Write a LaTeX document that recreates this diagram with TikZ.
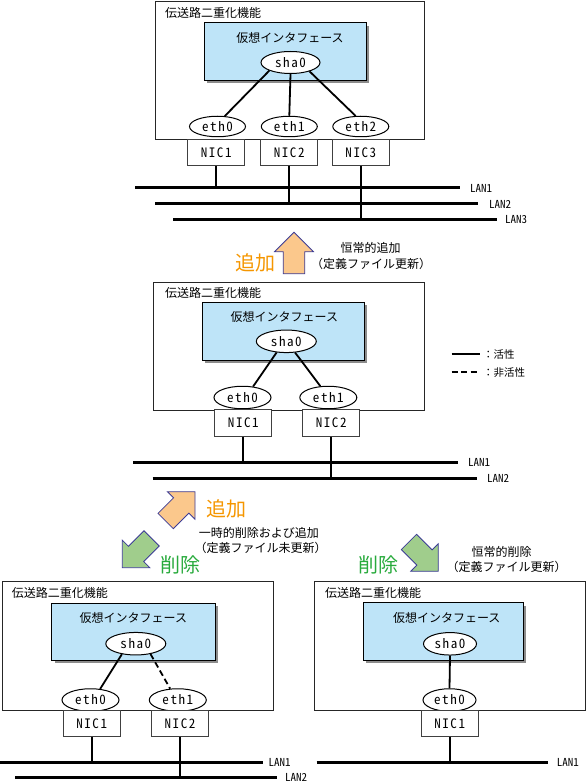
\documentclass[tikz,border=0pt]{standalone}
\usepackage{fontspec}
\setmainfont{Noto Sans CJK JP}
\newfontfamily\jp{Noto Sans CJK JP}
\newfontfamily\latw[RawFeature=+hwid,LetterSpace=12]{Noto Sans CJK JP}
\newfontfamily\latn[RawFeature=+hwid]{Noto Sans CJK JP}
\usetikzlibrary{shapes.geometric}
\newcommand\jpt{\jp\fontsize{12}{14}\selectfont}
\newcommand\jps{\jp\fontsize{10.5}{12}\selectfont}
\newcommand\jpb{\jp\fontsize{20}{22}\selectfont}
\newcommand\latf{\latw\fontsize{13}{15}\selectfont}
\newcommand\lanf{\latn\fontsize{11}{12}\selectfont}
\definecolor{vblue}{RGB}{190,228,248}
\definecolor{shadowgray}{RGB}{140,140,140}
\definecolor{arrO}{RGB}{251,200,140}
\definecolor{arrG}{RGB}{160,205,140}
\definecolor{arrline}{RGB}{60,60,150}
\definecolor{txtO}{RGB}{245,150,0}
\definecolor{txtG}{RGB}{40,170,60}
\tikzset{
  outerbox/.style={draw=black!85, line width=0.8pt},
  shadowbox/.style={fill=shadowgray},
  vifbox/.style={fill=vblue, draw=black, line width=0.8pt},
  ttl/.style={anchor=west, inner sep=0, font=\jpt},
  vif/.style={inner sep=0, font=\jpt},
  ifell/.style={ellipse, draw, fill=white, line width=1pt, inner sep=0, minimum width=57, minimum height=22.5, font=\latf},
  nic/.style={rectangle, draw=black!75, fill=white, line width=0.8pt, inner sep=0, minimum width=57, minimum height=26.5, font=\latf},
  lan/.style={line width=3pt},
  wire/.style={line width=1.7pt},
  link/.style={line width=1.8pt},
  inactive/.style={line width=1.8pt, dash pattern=on 6pt off 3.5pt},
  lanlbl/.style={anchor=west, inner sep=0, font=\lanf},
  note/.style={inner sep=0, font=\jpt},
  legtxt/.style={anchor=west, inner sep=0, font=\jps},
  bigO/.style={inner sep=0, font=\jpb, text=txtO},
  bigG/.style={inner sep=0, font=\jpb, text=txtG},
  bigarrow/.pic={\path[pic actions] (0,0) -- (-19.5,19.5) -- (-10.8,19.5) -- (-10.8,41.5) -- (10.8,41.5) -- (10.8,19.5) -- (19.5,19.5) -- cycle;},
  arrowO/.style={fill=arrO, draw=arrline, line width=0.8pt},
  arrowG/.style={fill=arrG, draw=arrline, line width=0.8pt}
}
\begin{document}
\begin{tikzpicture}[x=1pt,y=-1pt]
\useasboundingbox (0,0) rectangle (587,783);

% ================= TOP =================
\draw[outerbox] (155,1) rectangle (424,139.3);
\node[ttl] (t-title) at (165,13) {伝送路二重化機能};
\fill[shadowbox] (207,25.7) rectangle (369,83);
\draw[vifbox] (204,22.7) rectangle (366,80);
\node[vif] (t-vif) at (290,38) {仮想インタフェース};
\node[ifell, minimum width=59, minimum height=22] (t-sha) at (290.5,62.5) {sha0};
\node[ifell, minimum width=56, minimum height=20.5] (t-e0) at (217.5,126.5) {eth0};
\node[ifell, minimum width=56, minimum height=20.5] (t-e1) at (289.3,126.5) {eth1};
\node[ifell, minimum width=56, minimum height=20.5] (t-e2) at (360.8,126.5) {eth2};
\draw[link] (t-sha.201) -- (t-e0.55);
\draw[link] (t-sha.south) -- (t-e1.north);
\draw[link] (t-sha.335) -- (t-e2.116);
\node[nic] (t-n1) at (216.2,152.5) {NIC1};
\node[nic] (t-n2) at (289.2,152.5) {NIC2};
\node[nic] (t-n3) at (360.8,152.5) {NIC3};
\coordinate (t-L1a) at (135,188);  \coordinate (t-L1b) at (460,188);
\coordinate (t-L2a) at (155,204);  \coordinate (t-L2b) at (478,204);
\coordinate (t-L3a) at (173,220);  \coordinate (t-L3b) at (497,220);
\draw[lan] (t-L1a) -- (t-L1b);
\draw[lan] (t-L2a) -- (t-L2b);
\draw[lan] (t-L3a) -- (t-L3b);
\draw[wire] (t-n1.south) -- (t-n1.south |- t-L1a);
\draw[wire] (t-n2.south) -- (t-n2.south |- t-L2a);
\draw[wire] (t-n3.south) -- (t-n3.south |- t-L3a);
\node[lanlbl] (t-l1) at (470,188) {LAN1};
\node[lanlbl] (t-l2) at (489,204) {LAN2};
\node[lanlbl] (t-l3) at (505,220) {LAN3};

% ================= ARROW (permanent add) =================
\pic[arrowO] at (294,232.3) {bigarrow};
\node[bigO] (a-add1) at (255.5,262.5) {追加};
\node[note] (a-n1a) at (370.7,247.7) {恒常的追加};
\node[note] (a-n1b) at (371,264) {（定義ファイル更新）};

% ================= MIDDLE =================
\draw[outerbox] (153.3,282.3) rectangle (424,410);
\node[ttl] (m-title) at (165,293.3) {伝送路二重化機能};
\fill[shadowbox] (205.3,305.3) rectangle (367.3,363);
\draw[vifbox] (202.3,302.3) rectangle (364.3,360);
\node[vif] (m-vif) at (284.3,316.7) {仮想インタフェース};
\node[ifell, minimum width=60] (m-sha) at (286.3,341.3) {sha0};
\node[ifell] (m-e0) at (242.5,397.5) {eth0};
\node[ifell] (m-e1) at (328.3,397.5) {eth1};
\draw[link] (m-sha.229) -- (m-e0.46);
\draw[link] (m-sha.308) -- (m-e1.125);
\node[nic] (m-n1) at (243.3,423) {NIC1};
\node[nic] (m-n2) at (331.2,423) {NIC2};
\coordinate (m-L1a) at (133.3,462.3);  \coordinate (m-L1b) at (457.7,462.3);
\coordinate (m-L2a) at (152.7,478.3);  \coordinate (m-L2b) at (476.7,478.3);
\draw[lan] (m-L1a) -- (m-L1b);
\draw[lan] (m-L2a) -- (m-L2b);
\draw[wire] (m-n1.south) -- (m-n1.south |- m-L1a);
\draw[wire] (m-n2.south) -- (m-n2.south |- m-L2a);
\node[lanlbl] (m-l1) at (468,462.3) {LAN1};
\node[lanlbl] (m-l2) at (487,478.3) {LAN2};

% legend
\coordinate (g-a) at (451.7,354.3); \coordinate (g-b) at (480,354.3);
\coordinate (g-c) at (451.7,372.3); \coordinate (g-d) at (480,372.3);
\draw[link] (g-a) -- (g-b);
\draw[inactive] (g-c) -- (g-d);
\node[legtxt] (g-t1) at (483,354.3) {：活性};
\node[legtxt] (g-t2) at (483,372.3) {：非活性};

% ================= ARROWS (temporary / permanent delete) =================
\pic[arrowO, rotate=-45] at (195,491.7) {bigarrow};
\pic[arrowG, rotate=135] at (122.3,567.7) {bigarrow};
\pic[arrowG, rotate=-135] at (438.3,571.3) {bigarrow};
\node[bigO] (a-add2) at (226.3,508.5) {追加};
\node[bigG] (a-del1) at (180,564.5) {削除};
\node[bigG] (a-del2) at (378.3,564.5) {削除};
\node[note] (a-n2a) at (258.8,533.3) {一時的削除および追加};
\node[note] (a-n2b) at (260.5,548.3) {（定義ファイル未更新）};
\node[note] (a-n3a) at (501.7,551.7) {恒常的削除};
\node[note] (a-n3b) at (506.7,566.7) {（定義ファイル更新）};

% ================= BOTTOM LEFT =================
\draw[outerbox] (2.3,581.7) rectangle (273.3,710);
\node[ttl] (l-title) at (11.7,593.3) {伝送路二重化機能};
\fill[shadowbox] (54.7,606.3) rectangle (218,663);
\draw[vifbox] (51.7,603.3) rectangle (215,660);
\node[vif] (l-vif) at (133.3,618.3) {仮想インタフェース};
\node[ifell, minimum width=60] (l-sha) at (135.8,643.7) {sha0};
\node[ifell] (l-e0) at (90.5,700) {eth0};
\node[ifell] (l-e1) at (177.8,700) {eth1};
\draw[link] (l-sha.217) -- (l-e0.49);
\draw[inactive] (l-sha.325) -- (l-e1.124);
\node[nic] (l-n1) at (91.7,723.3) {NIC1};
\node[nic] (l-n2) at (180,723.3) {NIC2};
\coordinate (l-L1a) at (0,762.7);  \coordinate (l-L1b) at (263.3,762.7);
\coordinate (l-L2a) at (15,777.7); \coordinate (l-L2b) at (276.7,777.7);
\draw[lan] (l-L1a) -- (l-L1b);
\draw[lan] (l-L2a) -- (l-L2b);
\draw[wire] (l-n1.south) -- (l-n1.south |- l-L1a);
\draw[wire] (l-n2.south) -- (l-n2.south |- l-L2a);
\node[lanlbl] (l-l1) at (268.3,762.7) {LAN1};
\node[lanlbl] (l-l2) at (285,777.7) {LAN2};

% ================= BOTTOM RIGHT =================
\draw[outerbox] (314.3,581.7) rectangle (585,710);
\node[ttl] (r-title) at (325,593) {伝送路二重化機能};
\fill[shadowbox] (366.3,605.7) rectangle (526.3,663);
\draw[vifbox] (363.3,602.7) rectangle (523.3,660);
\node[vif] (r-vif) at (446.7,618.3) {仮想インタフェース};
\node[ifell, minimum width=53] (r-sha) at (450,643.8) {sha0};
\node[ifell, minimum width=53] (r-e0) at (449.5,700) {eth0};
\draw[link] (r-sha.south) -- (r-e0.north);
\node[nic] (r-n1) at (449.7,723.3) {NIC1};
\coordinate (r-L1a) at (316.7,762.7);  \coordinate (r-L1b) at (548.3,762.7);
\draw[lan] (r-L1a) -- (r-L1b);
\draw[wire] (r-n1.south) -- (r-n1.south |- r-L1a);
\node[lanlbl] (r-l1) at (556.7,762.7) {LAN1};
\end{tikzpicture}
\end{document}
